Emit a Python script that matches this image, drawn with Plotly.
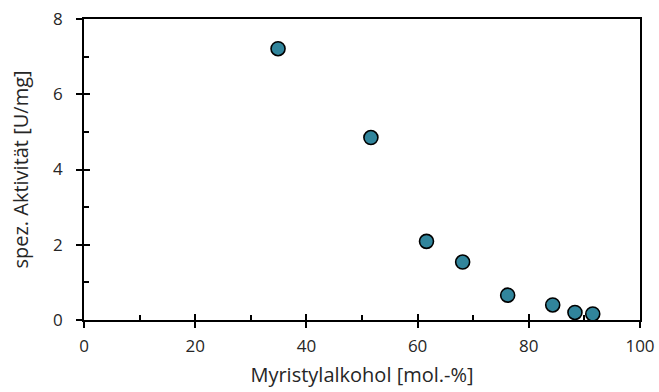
import plotly.graph_objects as go

x_vals = [34.9, 51.6, 61.6, 68.1, 76.2, 84.3, 88.3, 91.5]
y_vals = [7.21, 4.85, 2.09, 1.54, 0.66, 0.40, 0.20, 0.16]

x_ticks = [0, 20, 40, 60, 80, 100]
y_ticks = [0, 2, 4, 6, 8]

FONT = "Open Sans, Liberation Sans, sans-serif"
TXT = "#262626"

fig = go.Figure()
fig.add_trace(go.Scatter(
    x=x_vals, y=y_vals, mode="markers",
    marker=dict(size=14, color="#31859C", line=dict(color="black", width=1.6)),
    showlegend=False, xaxis="x", yaxis="y"))

common = dict(showgrid=False, zeroline=False, linecolor="black", linewidth=1.6, automargin=False)

fig.update_layout(
    width=659, height=392,
    margin=dict(l=84, r=19, t=19, b=72, autoexpand=False),
    paper_bgcolor="white", plot_bgcolor="white",
    font=dict(family=FONT, size=17, color=TXT),
    xaxis=dict(range=[0, 100], tickvals=x_ticks, ticks="outside", ticklen=6, tickwidth=1.6,
               tickcolor="black", showline=True, mirror=True,
               title=dict(text="Myristylalkohol [mol.-%]", font=dict(size=20, color=TXT), standoff=12),
               tickfont=dict(size=17, color=TXT), ticklabelstandoff=4, **common),
    yaxis=dict(range=[0, 8], tickvals=y_ticks, ticks="outside", ticklen=6, tickwidth=1.6,
               tickcolor="black", showline=True, mirror=True,
               title=dict(text="spez. Aktivität [U/mg]", font=dict(size=20, color=TXT), standoff=19),
               tickfont=dict(size=17, color=TXT), ticklabelstandoff=10, **common),
    xaxis2=dict(range=[0, 100], overlaying="x", anchor="y", side="bottom",
                tickvals=x_ticks, ticks="inside", ticklen=6, tickwidth=1.6, tickcolor="black",
                showticklabels=False, showgrid=False, zeroline=False, showline=False, automargin=False,
                minor=dict(tickvals=[10, 30, 50, 70, 90], ticks="inside", ticklen=5,
                           tickwidth=1.6, tickcolor="black", showgrid=False)),
    yaxis2=dict(range=[0, 8], overlaying="y", anchor="x", side="left",
                tickvals=y_ticks, ticks="inside", ticklen=6, tickwidth=1.6, tickcolor="black",
                showticklabels=False, showgrid=False, zeroline=False, showline=False, automargin=False,
                minor=dict(tickvals=[1, 3, 5, 7], ticks="inside", ticklen=5,
                           tickwidth=1.6, tickcolor="black", showgrid=False)),
)
fig.add_trace(go.Scatter(x=[None], y=[None], xaxis="x2", yaxis="y2", showlegend=False,
                         hoverinfo="skip"))

fig.write_html("out.html")
